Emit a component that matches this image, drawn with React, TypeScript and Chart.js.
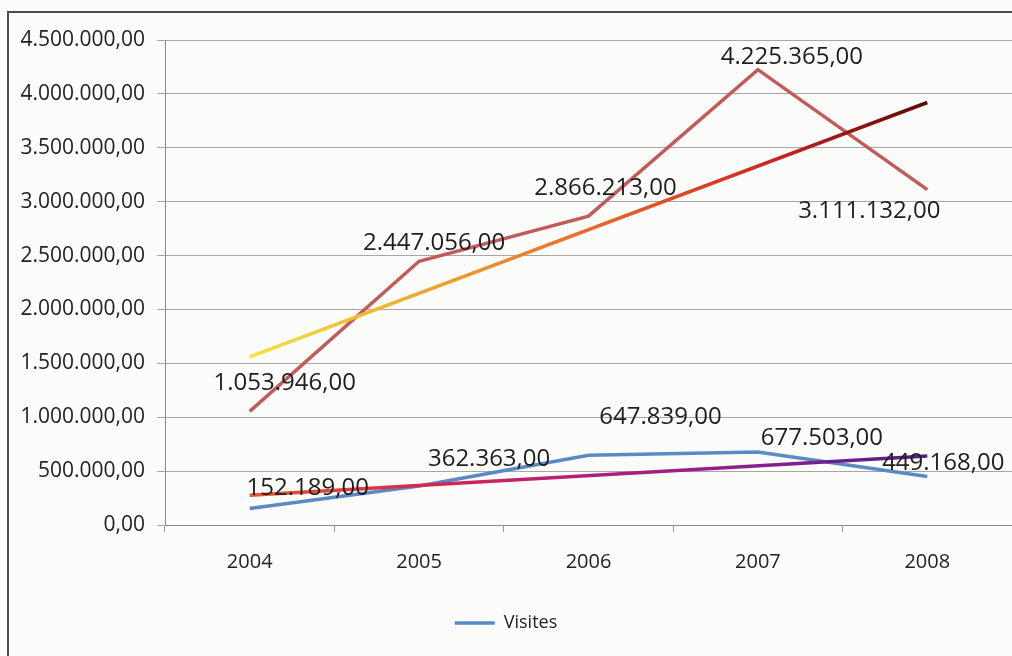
import React, { useEffect, useRef } from "react";
import { Chart, registerables } from "chart.js";

Chart.register(...registerables);

const years = ["2004", "2005", "2006", "2007", "2008"];
const revenue = [1053946, 2447056, 2866213, 4225365, 3111132];
const visits = [152189, 362363, 647839, 677503, 449168];
// trend lines: end values, straight line between them
const revenueTrend = [1560000, null, null, null, 3920000];
const visitsTrend = [276000, null, null, null, 640000];

const yMax = 4500000;
const yStep = 500000;

// label placement (pixel offsets from the point), style only
const revenueLabelOffsets = [[35, -28], [15, -18], [17, -28], [34, -12], [-58, 21]];
const visitsLabelOffsets = [[58, -20], [70, -27], [72, -38], [64, -14], [16, -13]];

const revenueTrendStops = ["#f2e43a", "#f0a830", "#ec6a2a", "#d42a26", "#5c0808"];
const visitsTrendStops = ["#e8582a", "#d8284a", "#b0207a", "#882090", "#502080"];

function fmt(v: number): string {
  const [i, d] = Math.abs(v).toFixed(2).split(".");
  return (v < 0 ? "-" : "") + i.replace(/\B(?=(\d{3})+(?!\d))/g, ".") + "," + d;
}

function trendGradient(stops: string[]) {
  return (context: any) => {
    const chart = context.chart;
    const { ctx, chartArea, scales } = chart;
    if (!chartArea || !scales.x) return stops[2];
    const x0 = scales.x.getPixelForValue(0);
    const x1 = scales.x.getPixelForValue(years.length - 1);
    const g = ctx.createLinearGradient(x0, 0, x1, 0);
    stops.forEach((c, i) => g.addColorStop(i / (stops.length - 1), c));
    return g;
  };
}

const labelPlugin = {
  id: "pointValueLabels",
  afterDatasetsDraw(chart: any) {
    const ctx = chart.ctx;
    ctx.save();
    ctx.font = '24px "Open Sans"';
    ctx.fillStyle = "#1e1e1e";
    ctx.textAlign = "center";
    ctx.textBaseline = "middle";
    chart.data.datasets.forEach((ds: any, di: number) => {
      const offs = ds.labelOffsets;
      if (!offs) return;
      const meta = chart.getDatasetMeta(di);
      meta.data.forEach((pt: any, i: number) => {
        const v = ds.data[i];
        if (v == null) return;
        ctx.fillText(fmt(v), pt.x + offs[i][0], pt.y + offs[i][1]);
      });
    });
    ctx.restore();
  },
};

export default function App() {
  const ref = useRef<HTMLCanvasElement | null>(null);

  useEffect(() => {
    document.body.style.margin = "0";
    const canvas = ref.current;
    if (!canvas) return;
    const chart = new Chart(canvas, {
      type: "line",
      data: {
        labels: years,
        datasets: [
          {
            label: "Tendance visites",
            data: visitsTrend,
            borderColor: trendGradient(visitsTrendStops),
            borderWidth: 3.5,
            pointRadius: 0,
            spanGaps: true,
            tension: 0,
          },
          {
            label: "Tendance",
            data: revenueTrend,
            borderColor: trendGradient(revenueTrendStops),
            borderWidth: 3.5,
            pointRadius: 0,
            spanGaps: true,
            tension: 0,
          },
          {
            label: "Visites",
            data: visits,
            borderColor: "#5a8ac6",
            backgroundColor: "#5a8ac6",
            borderWidth: 3.5,
            pointRadius: 0,
            pointStyle: "line",
            tension: 0,
            labelOffsets: visitsLabelOffsets,
          } as any,
          {
            label: "Pages",
            data: revenue,
            borderColor: "#c25c5c",
            backgroundColor: "#c25c5c",
            borderWidth: 3.5,
            pointRadius: 0,
            tension: 0,
            labelOffsets: revenueLabelOffsets,
          } as any,
        ],
      },
      options: {
        animation: false,
        responsive: false,
        maintainAspectRatio: false,
        layout: { padding: { top: 40, left: 0, right: 0, bottom: 14 } },
        plugins: {
          tooltip: { enabled: false },
          legend: {
            position: "bottom",
            labels: {
              filter: (item: any) => item.text === "Visites",
              usePointStyle: true,
              pointStyleWidth: 40,
              boxHeight: 18,
              padding: 10,
              color: "#222",
              font: { family: '"Open Sans"', size: 18 },
            },
          },
        },
        scales: {
          x: {
            type: "category",
            offset: true,
            grid: {
              display: true,
              offset: true,
              drawOnChartArea: false,
              drawTicks: true,
              tickLength: 7,
              color: "#999",
            },
            border: { display: true, color: "#8a8a8a", width: 1 },
            ticks: {
              padding: 18,
              color: "#222",
              font: { family: '"Open Sans"', size: 20 },
            },
            afterFit: (scale: any) => {
              scale.height = 79;
            },
          },
          y: {
            min: 0,
            max: yMax,
            ticks: {
              stepSize: yStep,
              padding: 12,
              color: "#222",
              font: { family: '"Open Sans"', size: 21 },
              callback: (v: any) => fmt(Number(v)),
            },
            grid: {
              color: "#a6a6a6",
              tickLength: 8,
              lineWidth: 1,
            },
            border: { display: true, color: "#8a8a8a", width: 1 },
            afterFit: (scale: any) => {
              scale.width = 165;
            },
          },
        },
      },
      plugins: [labelPlugin],
    } as any);
    return () => chart.destroy();
  }, []);

  return (
    <div
      style={{
        position: "relative",
        width: 1012,
        height: 656,
        background: "#fcfcfa",
        overflow: "hidden",
      }}
    >
      <canvas
        ref={ref}
        width={1012}
        height={656}
        style={{ position: "absolute", left: 0, top: 0, width: 1012, height: 656 }}
      />
      <div
        style={{
          position: "absolute",
          left: 7,
          top: 11,
          right: -10,
          bottom: -10,
          borderLeft: "2px solid #4a4a4a",
          borderTop: "2px solid #4a4a4a",
          pointerEvents: "none",
        }}
      />
    </div>
  );
}
